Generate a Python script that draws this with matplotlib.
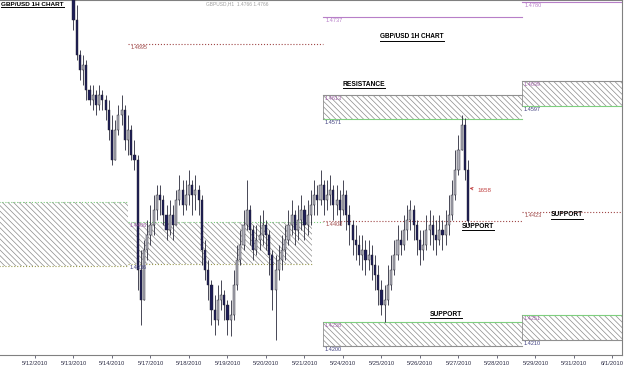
import matplotlib.pyplot as plt
from matplotlib.patches import Rectangle
from matplotlib.lines import Line2D

plt.rcParams['font.family'] = ['Liberation Sans', 'DejaVu Sans']
plt.rcParams['hatch.linewidth'] = 0.5

# trading days on the axis (index 0 = 5/12/2010)
dates = ['5/12/2010', '5/13/2010', '5/14/2010', '5/17/2010', '5/18/2010', '5/19/2010',
         '5/20/2010', '5/21/2010', '5/24/2010', '5/25/2010', '5/26/2010', '5/27/2010',
         '5/28/2010', '5/29/2010', '5/31/2010', '6/1/2010']

# 2-hour bars from 5/13 00:00, prices in pips (1.xxxx * 10000)
closes = [14733, 14676, 14651, 14659, 14618, 14602, 14610, 14594, 14610, 14602,
          14586, 14553, 14504, 14553, 14577, 14586, 14536, 14553, 14512, 14504,
          14323, 14274, 14356, 14381, 14397, 14422, 14446, 14438, 14413, 14389,
          14413, 14397, 14438, 14454, 14430, 14446, 14463, 14446, 14454, 14438,
          14356, 14323, 14299, 14258, 14241, 14274, 14282, 14266, 14241, 14249,
          14299, 14340, 14364, 14397, 14422, 14389, 14356, 14372, 14381, 14397,
          14381, 14348, 14290, 14323, 14340, 14356, 14372, 14397, 14413, 14389,
          14405, 14422, 14397, 14413, 14430, 14446, 14438, 14463, 14438, 14446,
          14454, 14430, 14438, 14422, 14446, 14413, 14397, 14372, 14364, 14348,
          14356, 14340, 14348, 14331, 14315, 14290, 14266, 14274, 14299, 14323,
          14348, 14372, 14364, 14389, 14405, 14422, 14397, 14372, 14356, 14364,
          14389, 14397, 14381, 14372, 14389, 14381, 14397, 14413, 14446, 14487,
          14520, 14561, 14487, 14404]
highs = [14766, 14758, 14684, 14676, 14668, 14627, 14627, 14618, 14627, 14618,
         14610, 14602, 14577, 14569, 14594, 14610, 14594, 14577, 14561, 14536,
         14512, 14356, 14372, 14405, 14430, 14446, 14463, 14463, 14446, 14430,
         14438, 14430, 14454, 14479, 14471, 14471, 14487, 14471, 14479, 14463,
         14446, 14372, 14340, 14307, 14282, 14299, 14307, 14290, 14274, 14274,
         14323, 14364, 14389, 14422, 14471, 14430, 14397, 14397, 14413, 14422,
         14405, 14389, 14356, 14348, 14364, 14381, 14397, 14422, 14438, 14422,
         14430, 14446, 14430, 14438, 14454, 14471, 14463, 14487, 14471, 14471,
         14479, 14463, 14463, 14454, 14471, 14454, 14430, 14405, 14397, 14381,
         14381, 14372, 14372, 14364, 14348, 14331, 14307, 14299, 14331, 14348,
         14372, 14397, 14389, 14413, 14430, 14438, 14430, 14405, 14389, 14389,
         14413, 14422, 14413, 14405, 14413, 14405, 14422, 14446, 14471, 14520,
         14545, 14577, 14572, 14504]
lows = [14717, 14668, 14635, 14627, 14602, 14594, 14586, 14577, 14586, 14586,
        14569, 14536, 14495, 14504, 14545, 14561, 14520, 14512, 14504, 14487,
        14290, 14233, 14274, 14340, 14364, 14381, 14405, 14413, 14397, 14372,
        14381, 14372, 14397, 14430, 14413, 14422, 14430, 14413, 14422, 14413,
        14331, 14307, 14274, 14233, 14217, 14233, 14258, 14241, 14217, 14215,
        14241, 14290, 14331, 14356, 14389, 14364, 14340, 14348, 14356, 14364,
        14356, 14315, 14258, 14208, 14307, 14323, 14340, 14364, 14381, 14364,
        14372, 14389, 14372, 14381, 14397, 14413, 14413, 14430, 14413, 14422,
        14430, 14405, 14413, 14397, 14413, 14389, 14364, 14348, 14340, 14331,
        14323, 14315, 14323, 14307, 14290, 14266, 14249, 14238, 14266, 14290,
        14315, 14340, 14348, 14356, 14372, 14389, 14372, 14348, 14331, 14340,
        14356, 14364, 14356, 14348, 14364, 14356, 14364, 14381, 14405, 14438,
        14479, 14520, 14471, 14397]
first_open = 14766

# hatched zones: start day, end day, low, high, labels
zone_start = [-1.0, 2.42, 7.48, 12.65, 7.48, 12.65]
zone_end = [2.42, 7.2, 12.65, 15.4, 12.65, 15.4]
zone_low = [14330, 14333, 14571, 14592, 14199, 14208]
zone_high = [14435, 14402, 14610, 14633, 14238, 14249]
zone_top_lbl = [None, '1.4406', '1.4613', '1.4639', '1.4238', '1.4251']
zone_bot_lbl = [None, '1.4336', '1.4571', '1.4597', '1.4200', '1.4210']
zone_top_col = ['#7fcf7f', '#7fcf7f', '#909090', '#909090', '#7fcf7f', '#7fcf7f']
zone_bot_col = ['#9a9a50', '#9a9a50', '#7fcf7f', '#7fcf7f', '#909090', '#909090']

# single level lines
line_start = [12.65, 7.48, 2.42, 7.48, 12.65]
line_end = [15.4, 12.65, 7.48, 12.65, 15.4]
line_price = [14763, 14738, 14694, 14404, 14418]
line_lbl = ['1.4780', '1.4737', '1.4695', '1.4408', '1.4423']
line_col = ['#b77fc8', '#b77fc8', '#a04848', '#a04848', '#a04848']
line_ls = ['-', '-', ':', ':', ':']

W, H = 625, 367
fig = plt.figure(figsize=(W / 100, H / 100), dpi=100)
ax = fig.add_axes([0, 12 / H, 622 / W, 355 / H])
x0 = -35 / 38.5
ax.set_xlim(x0, x0 + 622 / 38.5)
ax.set_ylim(14766 - 1.64 * 355, 14766)

# zones
for i in range(len(zone_start)):
    ax.add_patch(Rectangle((zone_start[i], zone_low[i]), zone_end[i] - zone_start[i],
                           zone_high[i] - zone_low[i], facecolor='none',
                           edgecolor='#8a8a8a', hatch='\\\\\\\\\\\\', lw=0, zorder=1))
    ls = ':' if i < 2 else '-'
    top_end = 7.48 if i == 1 else zone_end[i]
    ax.plot([zone_start[i], top_end], [zone_high[i]] * 2, color=zone_top_col[i], lw=0.8, ls=ls, zorder=2)
    ax.plot([zone_start[i], zone_end[i]], [zone_low[i]] * 2, color=zone_bot_col[i], lw=0.8, ls=ls, zorder=2)
    if i >= 2:
        ax.plot([zone_start[i]] * 2, [zone_low[i], zone_high[i]], color='#909090', lw=0.6, zorder=2)
    if zone_top_lbl[i]:
        ax.text(zone_start[i] + 0.04, zone_high[i] - 2, zone_top_lbl[i], fontsize=4,
                color='#a060a8', va='top', zorder=5)
        ax.text(zone_start[i] + 0.04, zone_low[i] - 2, zone_bot_lbl[i], fontsize=4,
                color='#404080', va='top', zorder=5)

for i in range(len(line_start)):
    ax.plot([line_start[i], line_end[i]], [line_price[i]] * 2, color=line_col[i],
            lw=0.8, ls=line_ls[i], zorder=2)
    ax.text(line_start[i] + 0.06, line_price[i] - 2, line_lbl[i], fontsize=4,
            color=line_col[i], va='top', zorder=5)

# candles
opens = [first_open] + closes[:-1]
xs = [1 + k / 12 for k in range(len(closes))]
ax.vlines(xs, lows, highs, color='#2a2a3a', lw=0.6, zorder=3)
for x, o, c in zip(xs, opens, closes):
    col = '#b0b0ba' if c >= o else '#1e1e58'
    ax.add_patch(Rectangle((x - 0.028, min(o, c)), 0.056, max(abs(c - o), 1.5),
                           facecolor=col, edgecolor='#20202a', lw=0.3, zorder=4))

ax.annotate('1658', xy=(1 + 122.6 / 12, 14458), xytext=(11.5, 14454), fontsize=4.5,
            color='#c04040', va='center',
            arrowprops=dict(arrowstyle='->', color='#c04040', lw=0.6))

ax.set_xticks(range(len(dates)))
ax.set_xticklabels(dates, fontsize=4.2, color='#303048')
ax.tick_params(axis='x', length=2, width=0.5, pad=2, color='#303048')
ax.set_yticks([])
for s in ['top', 'bottom', 'right']:
    ax.spines[s].set_color('#808080')
    ax.spines[s].set_linewidth(0.8)
ax.spines['left'].set_visible(False)

titles = []
titles.append(fig.text(1 / W, 1 - 4 / H, 'GBP/USD 1H CHART', fontsize=4.6, weight='bold', va='center'))
titles.append(fig.text(412 / W, 1 - 37 / H, 'GBP/USD 1H CHART', fontsize=4.7, weight='bold', va='center', ha='center'))
titles.append(fig.text(364 / W, 1 - 84 / H, 'RESISTANCE', fontsize=4.8, weight='bold', va='center', ha='center'))
titles.append(fig.text(478 / W, 1 - 226 / H, 'SUPPORT', fontsize=4.8, weight='bold', va='center', ha='center'))
titles.append(fig.text(567 / W, 1 - 215 / H, 'SUPPORT', fontsize=4.8, weight='bold', va='center', ha='center'))
titles.append(fig.text(446 / W, 1 - 314 / H, 'SUPPORT', fontsize=4.8, weight='bold', va='center', ha='center'))
fig.text(206 / W, 1 - 4 / H, 'GBPUSD,H1  1.4766 1.4766', fontsize=3.5, color='#a0a0a0', va='center')

fig.canvas.draw()
for t in titles:
    bb = t.get_window_extent()
    y = (bb.y0 - 0.5) / H
    fig.add_artist(Line2D([bb.x0 / W, bb.x1 / W], [y, y], transform=fig.transFigure,
                          color='black', lw=0.7))

fig.savefig('out.png', dpi=100)
